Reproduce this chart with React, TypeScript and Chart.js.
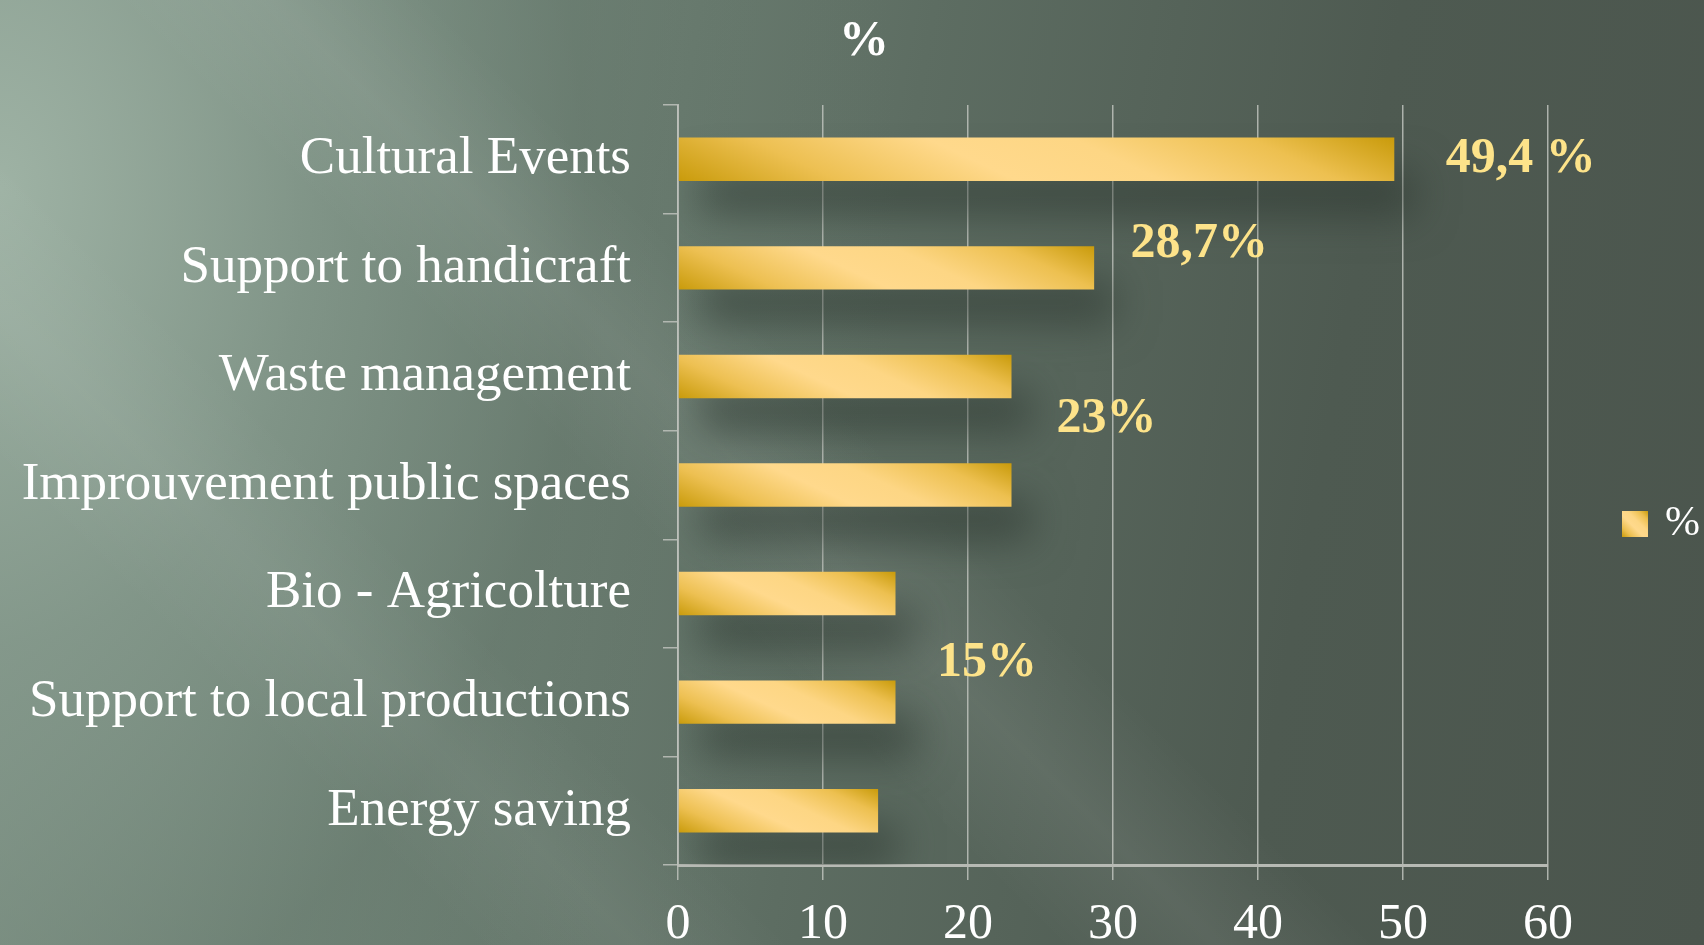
import React, { useEffect, useRef } from 'react';
import { Chart, registerables } from 'chart.js';

Chart.register(...registerables);

const categories = [
  'Cultural Events',
  'Support to handicraft',
  'Waste management',
  'Improuvement public spaces',
  'Bio - Agricolture',
  'Support to local productions',
  'Energy saving',
];
const values = [49.4, 28.7, 23, 23, 15, 15, 13.8];
const seriesName = '%';
const chartTitle = '%';
const xMin = 0;
const xMax = 60;
const xStep = 10;

const noteTexts = ['49,4 %', '28,7%', '23%', '15%'];
const noteValues = [52.95, 31.2, 26.1, 17.86];
const noteRows = [0, 0.785, 2.39, 4.64];

const FONT = "'Liberation Serif', 'Times New Roman', serif";
const DARK_GOLD = '#c99b0b';
const LIGHT_GOLD = '#ffd98c';

function goldGradient(ctx: CanvasRenderingContext2D, x0: number, x1: number, yt: number, yb: number, theta: number) {
  const s = Math.sin(theta);
  const c = Math.cos(theta);
  const len = (x1 - x0) * s + (yb - yt) * c;
  const g = ctx.createLinearGradient(x0, yb, x0 + s * len, yb - c * len);
  g.addColorStop(0, DARK_GOLD);
  g.addColorStop(0.2, '#edc052');
  g.addColorStop(0.42, LIGHT_GOLD);
  g.addColorStop(0.6, '#fdd684');
  g.addColorStop(0.82, '#edc050');
  g.addColorStop(1, DARK_GOLD);
  return g;
}

export default function App() {
  const ref = useRef<HTMLCanvasElement | null>(null);

  useEffect(() => {
    document.body.style.margin = '0';
    document.body.style.overflow = 'hidden';
    const canvas = ref.current;
    if (!canvas) return;

    const shadowPlugin = {
      id: 'barShadow',
      beforeDatasetsDraw(chart: any) {
        const ctx = chart.ctx;
        ctx.save();
        ctx.shadowColor = 'rgba(40, 50, 43, 0.55)';
        ctx.shadowBlur = 40;
        ctx.shadowOffsetX = 20;
        ctx.shadowOffsetY = 34;
      },
      afterDatasetsDraw(chart: any) {
        chart.ctx.restore();
      },
    };

    const notesPlugin = {
      id: 'notes',
      afterDraw(chart: any) {
        const ctx = chart.ctx;
        const xs = chart.scales.x;
        const ys = chart.scales.y;
        const ca = chart.chartArea;
        ctx.save();
        // title
        ctx.fillStyle = '#ffffff';
        ctx.font = `bold 50px ${FONT}`;
        ctx.textAlign = 'center';
        ctx.textBaseline = 'middle';
        ctx.fillText(chartTitle, ca.left + 186, 42);
        // value notes
        ctx.fillStyle = '#fde38a';
        ctx.textAlign = 'left';
        noteTexts.forEach((t, i) => {
          ctx.fillText(t, xs.getPixelForValue(noteValues[i]), ys.getPixelForValue(noteRows[i]));
        });
        // legend
        const bx = ca.right + 74;
        const cy = (ca.top + ca.bottom) / 2 + 39;
        const size = 26;
        ctx.fillStyle = goldGradient(ctx, bx, bx + size, cy - size / 2, cy + size / 2, Math.PI / 4);
        ctx.fillRect(bx, cy - size / 2, size, size);
        ctx.fillStyle = '#ffffff';
        ctx.font = `42px ${FONT}`;
        ctx.fillText(seriesName, bx + 43, cy);
        ctx.restore();
      },
    };

    const chart = new Chart(canvas, {
      type: 'bar',
      data: {
        labels: categories,
        datasets: [
          {
            label: seriesName,
            data: values,
            borderWidth: 0,
            categoryPercentage: 0.8,
            barPercentage: 0.5,
            backgroundColor: (c: any) => {
              const chartObj = c.chart;
              const xs = chartObj.scales?.x;
              const ys = chartObj.scales?.y;
              if (!xs || !ys || c.dataIndex === undefined || !chartObj.chartArea) return '#f5c850';
              const i = c.dataIndex;
              const x0 = xs.getPixelForValue(0);
              const x1 = xs.getPixelForValue(values[i]);
              const yc = ys.getPixelForValue(i);
              const h = (ys.height / categories.length) * 0.4;
              return goldGradient(chartObj.ctx, x0, x1, yc - h / 2, yc + h / 2, (25 * Math.PI) / 180);
            },
          },
        ],
      },
      options: {
        indexAxis: 'y',
        responsive: false,
        animation: false,
        devicePixelRatio: 1,
        layout: { padding: { top: 105, left: 0, right: 156, bottom: 0 } },
        plugins: {
          legend: { display: false },
          tooltip: { enabled: false },
          title: { display: false },
        },
        scales: {
          x: {
            type: 'linear',
            min: xMin,
            max: xMax,
            ticks: {
              stepSize: xStep,
              color: '#ffffff',
              font: { family: FONT, size: 50 },
              padding: 15,
            },
            grid: {
              color: 'rgba(190, 194, 188, 0.85)',
              lineWidth: 1.5,
              tickLength: 15,
              tickColor: 'rgba(190, 194, 188, 0.85)',
            },
            border: { color: '#b7bab4', width: 3 },
            afterFit: (s: any) => {
              s.height = 125;
            },
          },
          y: {
            type: 'category',
            ticks: {
              color: '#ffffff',
              font: { family: FONT, size: 53 },
              padding: 32,
            },
            grid: {
              offset: true,
              drawOnChartArea: false,
              tickLength: 15,
              tickColor: 'rgba(190, 194, 188, 0.85)',
              lineWidth: 1.5,
            },
            border: { color: 'rgba(190, 194, 188, 0.85)', width: 2 },
            afterFit: (s: any) => {
              s.width = 678;
            },
          },
        },
      },
      plugins: [shadowPlugin, notesPlugin],
    } as any);

    return () => chart.destroy();
  }, []);

  return (
    <div
      style={{
        position: 'fixed',
        left: 0,
        top: 0,
        width: 1704,
        height: 945,
        overflow: 'hidden',
        backgroundColor: '#4b554d',
        backgroundImage: [
          'linear-gradient(45deg, rgba(255,255,255,0) 18%, rgba(255,255,255,0.05) 24%, rgba(255,255,255,0) 30%, rgba(255,255,255,0) 40%, rgba(255,255,255,0.07) 46%, rgba(255,255,255,0) 52%)',
          'radial-gradient(ellipse 900px 1300px at 0% 20%, rgba(160,180,166,0.9) 0%, rgba(130,150,137,0.7) 35%, rgba(100,118,106,0.4) 65%, rgba(75,85,77,0) 100%)',
          'linear-gradient(100deg, #8fa496 0%, #73877a 25%, #5d6d62 50%, #4e5a51 75%, #4b554d 100%)',
        ].join(', '),
      }}
    >
      <canvas ref={ref} width={1704} height={990} style={{ display: 'block' }} />
    </div>
  );
}
